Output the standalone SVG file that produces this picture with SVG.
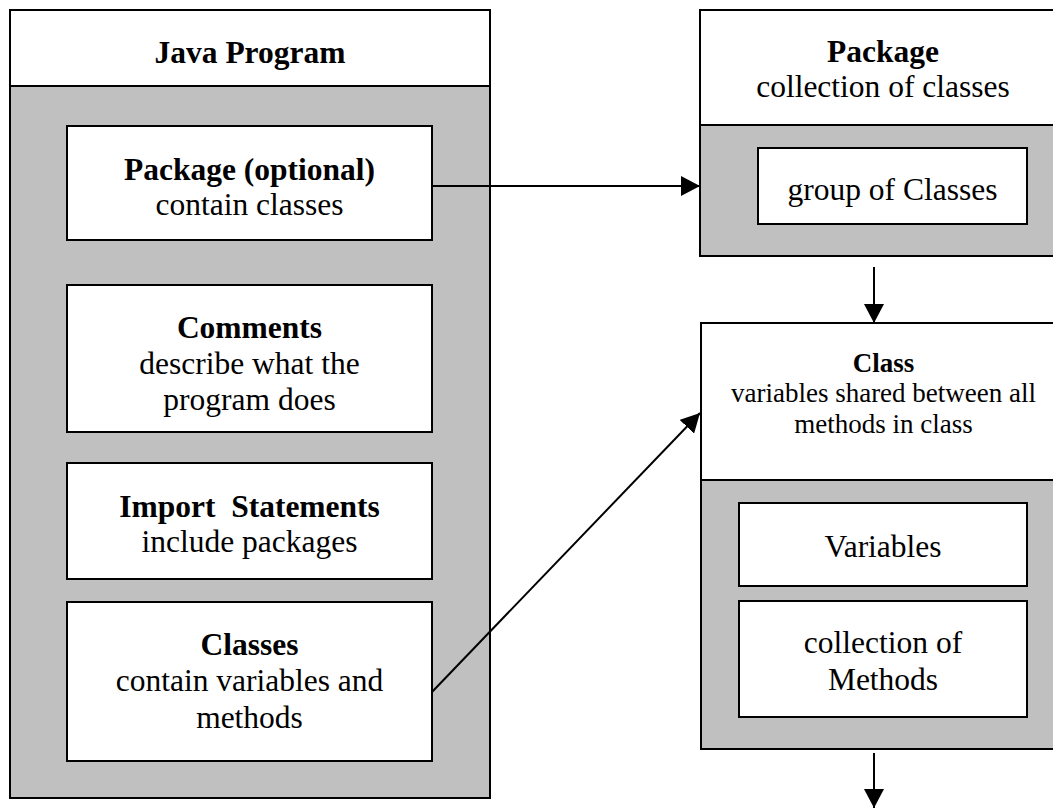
<svg xmlns="http://www.w3.org/2000/svg" width="1053" height="808" viewBox="0 0 1053 808">
  <style>
    .frame { fill: #ffffff; stroke: #000000; stroke-width: 2; }
    .shade { fill: #c0c0c0; stroke: #000000; stroke-width: 2; }
    .box { fill: #ffffff; stroke: #000000; stroke-width: 2; }
    .t { font-family: "Liberation Serif", "Times New Roman", serif; font-size: 31.5px; fill: #000000; text-anchor: middle; }
    .b { font-weight: bold; }
    .s { font-size: 27px; }
    .edge { stroke: #000000; stroke-width: 2; fill: none; marker-end: url(#head); }
  </style>
  <defs>
    <marker id="head" markerUnits="userSpaceOnUse" markerWidth="20" markerHeight="20" refX="19" refY="10" orient="auto">
      <path d="M0,0 L19,10 L0,20 Z" fill="#000000"/>
    </marker>
  </defs>
  <rect width="1053" height="808" fill="#ffffff"/>

  <!-- Java program container -->
  <g id="java-program">
    <rect class="shade" x="10" y="10" width="480" height="788"/>
    <rect class="frame" x="10" y="10" width="480" height="76"/>
    <text class="t b" x="250" y="63">Java Program</text>
  </g>

  <g id="package-optional">
    <rect class="box" x="67" y="126" width="365" height="114"/>
    <text class="t b" x="249.5" y="180">Package (optional)</text>
    <text class="t" x="249.5" y="215">contain classes</text>
  </g>

  <g id="comments">
    <rect class="box" x="67" y="285" width="365" height="147"/>
    <text class="t b" x="249.5" y="338">Comments</text>
    <text class="t" x="249.5" y="374">describe what the</text>
    <text class="t" x="249.5" y="410">program does</text>
  </g>

  <g id="import-statements">
    <rect class="box" x="67" y="463" width="365" height="116"/>
    <text class="t b" x="249.5" y="517" xml:space="preserve">Import  Statements</text>
    <text class="t" x="249.5" y="552">include packages</text>
  </g>

  <g id="classes">
    <rect class="box" x="67" y="602" width="365" height="159"/>
    <text class="t b" x="249.5" y="655">Classes</text>
    <text class="t" x="249.5" y="691">contain variables and</text>
    <text class="t" x="249.5" y="728">methods</text>
  </g>

  <!-- Package container (right) -->
  <g id="package">
    <rect class="shade" x="700" y="10" width="370" height="246"/>
    <rect class="frame" x="700" y="10" width="370" height="115"/>
    <text class="t b" x="883" y="62">Package</text>
    <text class="t" x="883" y="97">collection of classes</text>
  </g>

  <g id="group-of-classes">
    <rect class="box" x="758" y="148" width="269" height="76"/>
    <text class="t" x="892.5" y="200">group of Classes</text>
  </g>

  <!-- Class container (right) -->
  <g id="class">
    <rect class="shade" x="701" y="323" width="370" height="426"/>
    <rect class="frame" x="701" y="323" width="370" height="157"/>
    <text class="t b s" x="883.5" y="372">Class</text>
    <text class="t s" x="883.5" y="402">variables shared between all</text>
    <text class="t s" x="883.5" y="433">methods in class</text>
  </g>

  <g id="variables">
    <rect class="box" x="739" y="503" width="288" height="83"/>
    <text class="t" x="883" y="557">Variables</text>
  </g>

  <g id="methods">
    <rect class="box" x="739" y="601" width="288" height="116"/>
    <text class="t" x="883" y="653">collection of</text>
    <text class="t" x="883" y="690">Methods</text>
  </g>

  <!-- Connectors -->
  <g id="connectors">
    <line class="edge" x1="432" y1="186" x2="700" y2="186"/>
    <line class="edge" x1="874" y1="267" x2="874" y2="323"/>
    <line class="edge" x1="432" y1="692" x2="700" y2="413"/>
    <line class="edge" x1="874" y1="753" x2="874" y2="808"/>
  </g>
</svg>
